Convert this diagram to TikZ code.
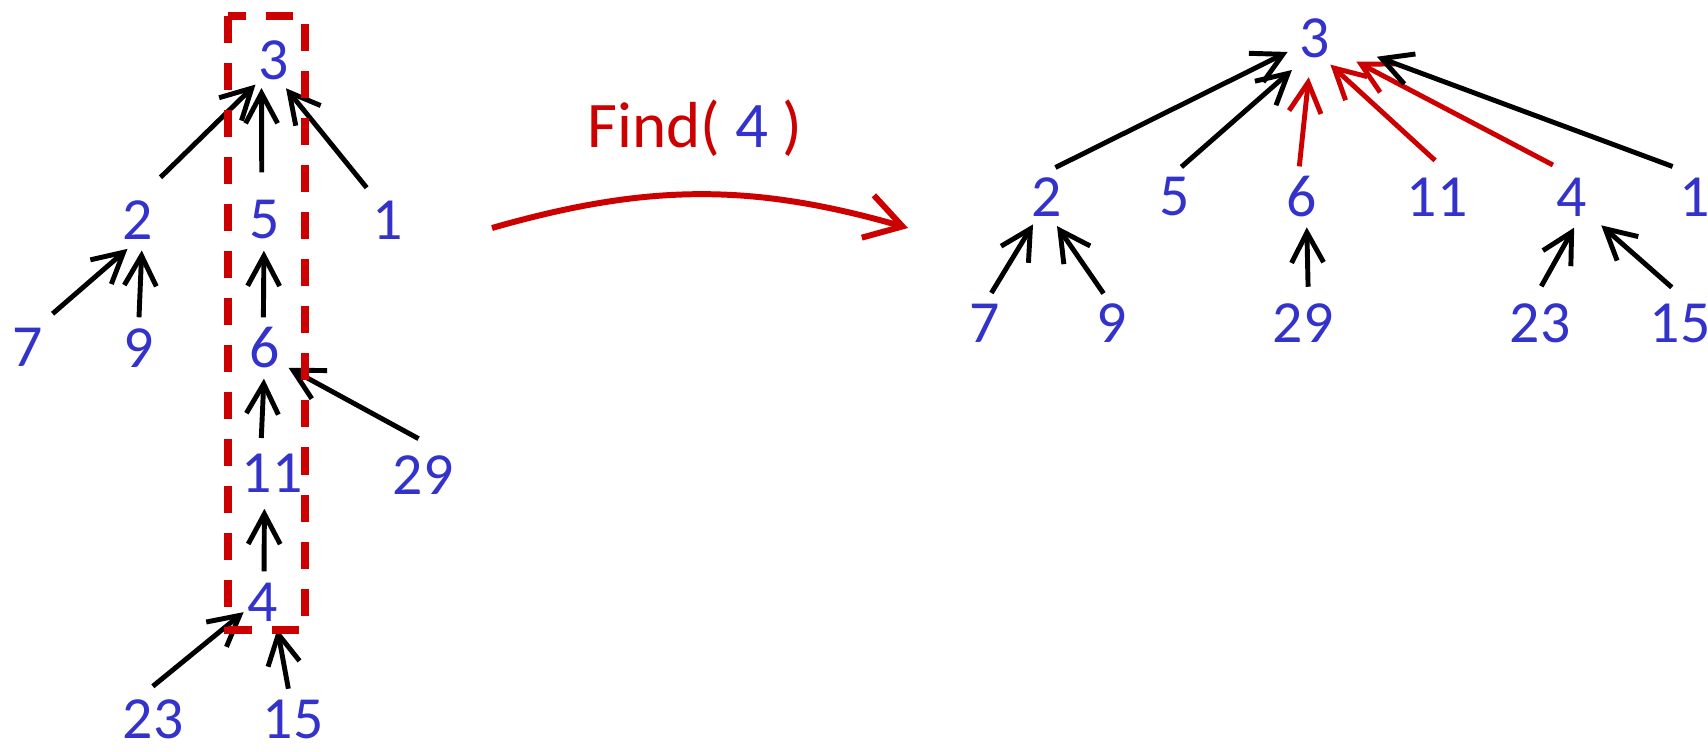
\documentclass[tikz,border=0pt]{standalone}
\usepackage{fontspec}
\setmainfont{Carlito}
\usetikzlibrary{arrows.meta}
\definecolor{numblue}{RGB}{51,51,204}
\definecolor{findred}{RGB}{204,0,0}
\tikzset{
  num/.style={circle, inner sep=0pt, minimum size=0.6cm, text=numblue, font=\fontsize{17}{20}\selectfont},
  arr/.style={-{Straight Barb[length=3mm,width=3.2mm]}, line width=1.4pt, black},
  redarr/.style={arr, findred},
  findarr/.style={-{Straight Barb[length=3.6mm,width=4.4mm]}, line width=1.7pt, findred},
  findtext/.style={text=findred, font=\fontsize{18.5}{22}\selectfont},
}

\begin{document}
\begin{tikzpicture}[x=0.01cm, y=-0.01cm]
\useasboundingbox (0,0) rectangle (1708,751);

% before: the long chain 4 -> 11 -> 6 -> 5 -> 3
\node[num] (L3) at (274,60) {3};
\node[num] (L2) at (138,220) {2};
\node[num] (L5) at (265,220) {5};
\node[num] (L1) at (388,220) {1};
\node[num] (L7) at (28,347) {7};
\node[num] (L9) at (139,348) {9};
\node[num] (L6) at (265,348) {6};
\node[num] (L11) at (272,473) {11};
\node[num] (L29) at (423,475) {29};
\node[num] (L4) at (263,602) {4};
\node[num] (L23) at (153,719) {23};
\node[num] (L15) at (293,719) {15};

\draw[arr, shorten <=1.9mm] (L2.73) -- (L3.233);
\draw[arr, shorten <=1.7mm] (L5.96) -- (L3.246);
\draw[arr, shorten <=0.8mm] (L1.122) -- (L3.293);
\draw[arr, shorten <=1.1mm] (L7.58) -- (L2.250);
\draw[arr] (L9.90) -- (L2.277);
\draw[arr] (L6.93) -- (L5.268);
\draw[arr] (L29.97) -- (L6.320);
\draw[arr] (L11.107) -- (L6.268);
\draw[arr] (L4.88) -- (L11.258);
\draw[arr, shorten <=-0.6mm, shorten >=-0.9mm] (L23.83) -- (L4.211);
\draw[arr, shorten <=-0.6mm] (L15.99) -- (L4.298);

% the path that find walks
\draw[findred, line width=2pt, dash pattern=on 0.27cm off 0.2cm] (228,16) rectangle (305,630);

% find
\node[findtext, anchor=base] (findlabel) at (695,147) {Find( \textcolor{numblue}{4} )};
\coordinate (findstart) at (492,228);
\coordinate (findend) at (908,228);
\draw[findarr] (findstart) to[bend left=16] (findend);

% after: every node on the path hangs from the root
\node[num] (R3) at (1315,38) {3};
\node[num] (R2) at (1047,197) {2};
\node[num] (R5) at (1175,197) {5};
\node[num] (R6) at (1302,197) {6};
\node[num] (R11) at (1437,197) {11};
\node[num] (R4) at (1572,197) {4};
\node[num] (R1) at (1695,197) {1};
\node[num] (R7) at (985,323) {7};
\node[num] (R9) at (1112,323) {9};
\node[num] (R29) at (1303,323) {29};
\node[num] (R23) at (1540,323) {23};
\node[num] (R15) at (1680,323) {15};

\draw[arr] (R2.74) -- (R3.207);
\draw[arr, shorten >=0.9mm] (R5.78) -- (R3.238);
\draw[redarr, shorten >=0.9mm] (R6.95) -- (R3.260);
\draw[redarr] (R11.93) -- (R3.300);
\draw[redarr, shorten <=0.8mm, shorten >=1.7mm] (R4.113) -- (R3.329);
\draw[arr, shorten <=0.9mm, shorten >=3.4mm] (R1.117) -- (R3.347);
\draw[arr] (R7.78) -- (R2.243);
\draw[arr] (R9.106) -- (R2.289);
\draw[arr] (R29.82) -- (R6.279);
\draw[arr] (R23.88) -- (R4.274);
\draw[arr, shorten >=1mm] (R15.103) -- (R4.315);
\end{tikzpicture}
\end{document}
